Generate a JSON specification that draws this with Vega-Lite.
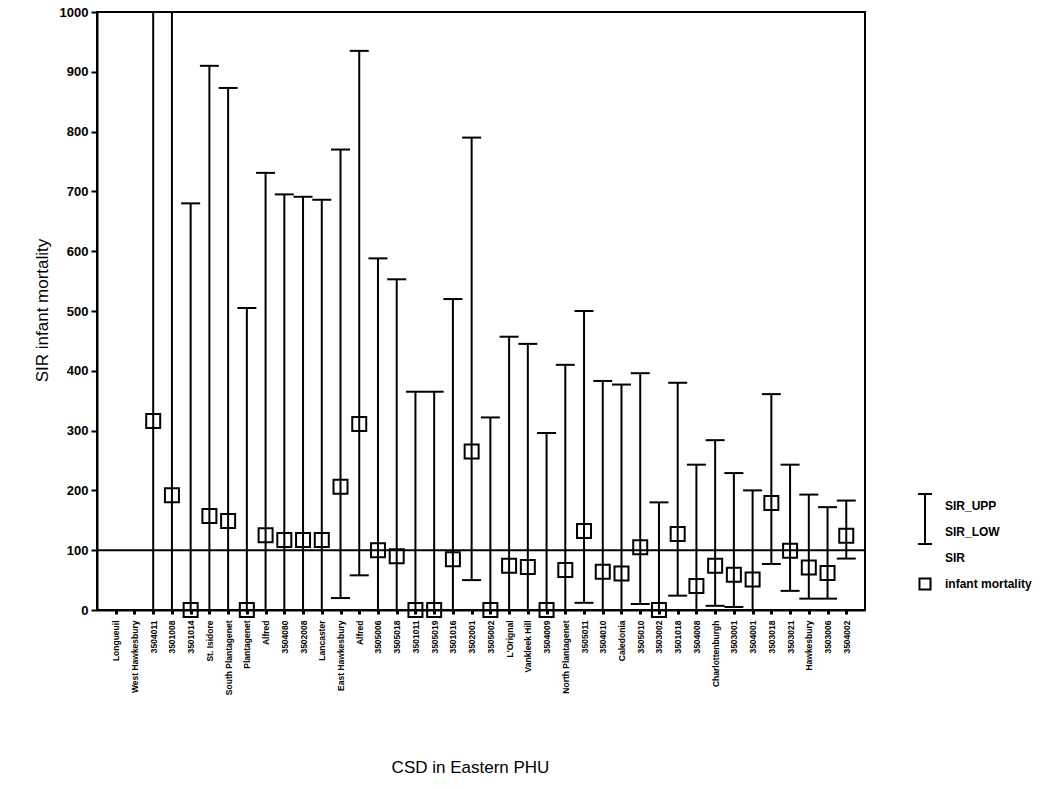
{
  "$schema": "https://vega.github.io/schema/vega-lite/v6.json",
  "width": 768,
  "height": 598,
  "autosize": "none",
  "padding": {"left": 97, "top": 12, "right": 193, "bottom": 179},
  "background": "white",
  "config": {"view": {"stroke": "black", "strokeWidth": 2}, "font": "Liberation Sans"},
  "data": {
    "values": [
      {"csd": "Longueuil", "SIR": null, "SIR_LOW": null, "SIR_UPP": null},
      {"csd": "West Hawkesbury", "SIR": null, "SIR_LOW": null, "SIR_UPP": null},
      {"csd": "3504011", "SIR": 316, "SIR_LOW": 0, "SIR_UPP": 1250},
      {"csd": "3501008", "SIR": 192, "SIR_LOW": 0, "SIR_UPP": 1250},
      {"csd": "3501014", "SIR": 0, "SIR_LOW": 0, "SIR_UPP": 680},
      {"csd": "St. Isidore", "SIR": 157, "SIR_LOW": 0, "SIR_UPP": 910},
      {"csd": "South Plantagenet", "SIR": 149, "SIR_LOW": 0, "SIR_UPP": 873},
      {"csd": "Plantagenet", "SIR": 0, "SIR_LOW": 0, "SIR_UPP": 505},
      {"csd": "Alfred", "SIR": 125, "SIR_LOW": 0, "SIR_UPP": 731},
      {"csd": "3504080", "SIR": 117, "SIR_LOW": 0, "SIR_UPP": 695},
      {"csd": "3502008", "SIR": 117, "SIR_LOW": 0, "SIR_UPP": 691},
      {"csd": "Lancaster", "SIR": 117, "SIR_LOW": 0, "SIR_UPP": 686},
      {"csd": "East Hawkesbury", "SIR": 206, "SIR_LOW": 20, "SIR_UPP": 770},
      {"csd": "Alfred ", "SIR": 311, "SIR_LOW": 58, "SIR_UPP": 935},
      {"csd": "3505006", "SIR": 100, "SIR_LOW": 0, "SIR_UPP": 588},
      {"csd": "3505018", "SIR": 90, "SIR_LOW": 0, "SIR_UPP": 553},
      {"csd": "3501011", "SIR": 0, "SIR_LOW": 0, "SIR_UPP": 365},
      {"csd": "3505019", "SIR": 0, "SIR_LOW": 0, "SIR_UPP": 365},
      {"csd": "3501016", "SIR": 85, "SIR_LOW": 0, "SIR_UPP": 520},
      {"csd": "3502001", "SIR": 265, "SIR_LOW": 50, "SIR_UPP": 790},
      {"csd": "3505002", "SIR": 0, "SIR_LOW": 0, "SIR_UPP": 322},
      {"csd": "L'Orignal", "SIR": 74, "SIR_LOW": 0, "SIR_UPP": 457},
      {"csd": "Vankleek Hill", "SIR": 72, "SIR_LOW": 0, "SIR_UPP": 445},
      {"csd": "3504009", "SIR": 0, "SIR_LOW": 0, "SIR_UPP": 296},
      {"csd": "North Plantagenet", "SIR": 67, "SIR_LOW": 0, "SIR_UPP": 410},
      {"csd": "3505011", "SIR": 132, "SIR_LOW": 12, "SIR_UPP": 500},
      {"csd": "3504010", "SIR": 64, "SIR_LOW": 0, "SIR_UPP": 383},
      {"csd": "Caledonia", "SIR": 61, "SIR_LOW": 0, "SIR_UPP": 377},
      {"csd": "3505010", "SIR": 105, "SIR_LOW": 10, "SIR_UPP": 396},
      {"csd": "3503002", "SIR": 0, "SIR_LOW": 0, "SIR_UPP": 180},
      {"csd": "3501018", "SIR": 127, "SIR_LOW": 24, "SIR_UPP": 380},
      {"csd": "3504008", "SIR": 40, "SIR_LOW": 0, "SIR_UPP": 243},
      {"csd": "Charlottenburgh", "SIR": 74, "SIR_LOW": 7, "SIR_UPP": 284},
      {"csd": "3503001", "SIR": 59, "SIR_LOW": 5, "SIR_UPP": 229},
      {"csd": "3504001", "SIR": 51, "SIR_LOW": 0, "SIR_UPP": 200},
      {"csd": "3503018", "SIR": 179, "SIR_LOW": 77, "SIR_UPP": 361},
      {"csd": "3503021", "SIR": 99, "SIR_LOW": 32, "SIR_UPP": 243},
      {"csd": "Hawkesbury", "SIR": 71, "SIR_LOW": 19, "SIR_UPP": 193},
      {"csd": "3503006", "SIR": 62, "SIR_LOW": 19, "SIR_UPP": 172},
      {"csd": "3504002", "SIR": 124, "SIR_LOW": 86, "SIR_UPP": 183}
    ]
  },
  "encoding": {
    "x": {
      "field": "csd",
      "type": "nominal",
      "scale": {
        "type": "point",
        "padding": 1.65,
        "domain": ["Longueuil", "West Hawkesbury", "3504011", "3501008", "3501014", "St. Isidore", "South Plantagenet", "Plantagenet", "Alfred", "3504080", "3502008", "Lancaster", "East Hawkesbury", "Alfred ", "3505006", "3505018", "3501011", "3505019", "3501016", "3502001", "3505002", "L'Orignal", "Vankleek Hill", "3504009", "North Plantagenet", "3505011", "3504010", "Caledonia", "3505010", "3503002", "3501018", "3504008", "Charlottenburgh", "3503001", "3504001", "3503018", "3503021", "Hawkesbury", "3503006", "3504002"]
      },
      "axis": {
        "title": "CSD in Eastern PHU",
        "labelAngle": 270,
        "labelFontSize": 8.5,
        "labelFontWeight": "bold",
        "labelFont": "Liberation Sans Narrow, Liberation Sans",
        "labelColor": "black",
        "labelPadding": 6,
        "labelOverlap": false,
        "labelBound": false,
        "tickSize": 4,
        "tickWidth": 3,
        "tickColor": "black",
        "domainColor": "black",
        "domainWidth": 2,
        "titleFontSize": 17,
        "titleFontWeight": "normal",
        "titleColor": "black",
        "titleX": 373,
        "titleY": 157,
        "titleAlign": "center",
        "titleBaseline": "middle"
      }
    }
  },
  "layer": [
    {
      "mark": {"type": "rule", "color": "black", "strokeWidth": 2, "clip": true},
      "encoding": {
        "y": {
          "field": "SIR_LOW",
          "type": "quantitative",
          "scale": {"domain": [0, 1000], "nice": false},
          "axis": {
            "title": "SIR infant mortality",
            "values": [0, 100, 200, 300, 400, 500, 600, 700, 800, 900, 1000],
            "format": "d",
            "labelFontSize": 13,
            "labelFontWeight": "bold",
            "labelColor": "black",
            "labelPadding": 3,
            "tickColor": "black",
            "tickSize": 6,
            "tickWidth": 2,
            "domainColor": "black",
            "domainWidth": 2,
            "grid": false,
            "titleFontSize": 17,
            "titleFontWeight": "normal",
            "titleColor": "black",
            "titleX": -55,
            "titleY": 298,
            "titleAngle": 270,
            "titleAlign": "center",
            "titleBaseline": "middle"
          }
        },
        "y2": {"field": "SIR_UPP"}
      }
    },
    {
      "mark": {"type": "tick", "color": "black", "thickness": 2, "size": 19, "clip": true, "opacity": 1},
      "encoding": {"y": {"field": "SIR_UPP", "type": "quantitative"}}
    },
    {
      "mark": {"type": "tick", "color": "black", "thickness": 2, "size": 19, "clip": true, "opacity": 1},
      "encoding": {"y": {"field": "SIR_LOW", "type": "quantitative"}}
    },
    {
      "data": {"values": [{"ref": 100}]},
      "mark": {"type": "rule", "color": "black", "strokeWidth": 2},
      "encoding": {"x": null, "y": {"field": "ref", "type": "quantitative"}}
    },
    {
      "mark": {"type": "point", "filled": false, "color": "black", "strokeWidth": 2, "size": 925, "opacity": 1},
      "encoding": {
        "y": {"field": "SIR", "type": "quantitative"},
        "shape": {
          "datum": "infant mortality",
          "type": "nominal",
          "scale": {
            "domain": ["SIR_UPP", "SIR_LOW", "SIR", "infant mortality"],
            "range": [
              "M-0.58,-1H0.58M0,-1V1.1",
              "M0,-1.1V1M-0.58,1H0.58",
              "M0,0",
              "M-0.46,-0.46H0.46V0.46H-0.46Z"
            ]
          },
          "legend": {
            "orient": "none",
            "legendX": 815,
            "legendY": 481,
            "title": null,
            "padding": 0,
            "clipHeight": 26,
            "symbolSize": 576,
            "symbolStrokeWidth": 2,
            "symbolStrokeColor": "black",
            "symbolFillColor": "transparent",
            "symbolOpacity": 1,
            "labelFontSize": 12,
            "labelFontWeight": "bold",
            "labelColor": "black",
            "labelOffset": 7,
            "rowPadding": 0
          }
        }
      }
    }
  ]
}
